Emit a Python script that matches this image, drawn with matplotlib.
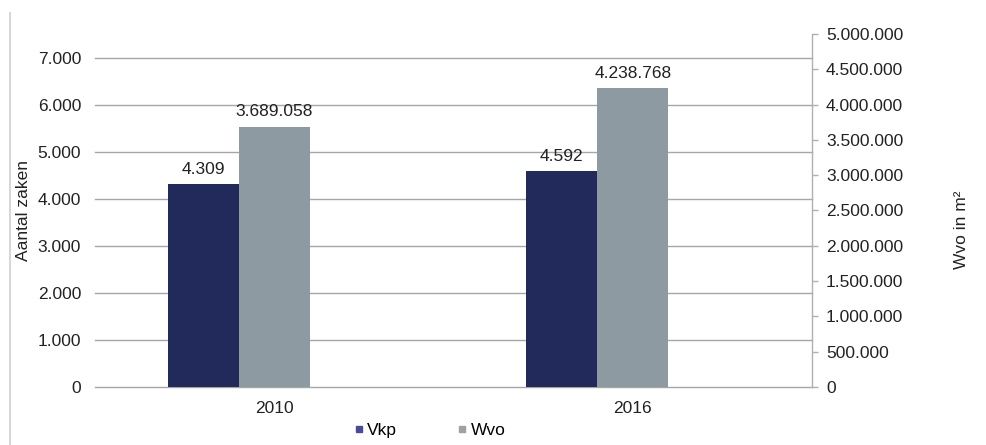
import matplotlib
matplotlib.use("Agg")
import matplotlib.pyplot as plt
import numpy as np
from matplotlib.ticker import FuncFormatter
from matplotlib.lines import Line2D

plt.rcParams['font.family'] = ['Liberation Sans', 'DejaVu Sans']

years = ["2010", "2016"]
vkp = [4309, 4592]
wvo = [3689058, 4238768]
left_ticks = [0, 1000, 2000, 3000, 4000, 5000, 6000, 7000]
right_ticks = [0, 500000, 1000000, 1500000, 2000000, 2500000, 3000000, 3500000, 4000000, 4500000, 5000000]

def nl(v, _=None):
    return f"{int(round(v)):,}".replace(",", ".")

FS = 12.5
TXT = "#222222"

fig = plt.figure(figsize=(9.86, 4.45), dpi=100)
ax = fig.add_axes([95/986, 1-387/445, (812-95)/986, (387-34)/445])
ax2 = ax.twinx()

x = np.arange(len(years))
w = 0.198
c_vkp = "#222a5c"
c_wvo = "#8e9aa2"

ax.bar(x - w, vkp, width=w, color=c_vkp, align="center", zorder=3)
ax2.bar(x, wvo, width=w, color=c_wvo, align="center", zorder=3)

ax.set_xlim(-0.5, 1.5)
ax.set_ylim(0, 7500)
ax2.set_ylim(0, 5000000)
ax.set_yticks(left_ticks)
ax2.set_yticks(right_ticks)
ax.yaxis.set_major_formatter(FuncFormatter(nl))
ax2.yaxis.set_major_formatter(FuncFormatter(nl))
ax.set_xticks(x)
ax.set_xticklabels(years)

ax.grid(axis="y", color="#a6a6a6", linewidth=1.0, zorder=0)
for gl in ax.yaxis.get_gridlines():
    gl.set_clip_on(False)
ax.set_axisbelow(True)
for s in ["top", "left", "bottom", "right"]:
    ax.spines[s].set_visible(False)
for s in ["top", "left", "bottom"]:
    ax2.spines[s].set_visible(False)
ax2.spines["right"].set_color("#b0b0b0")
ax2.spines["right"].set_linewidth(1.0)

ax.tick_params(axis="y", length=0, pad=10, labelsize=FS, colors=TXT)
ax.tick_params(axis="x", length=0, pad=10, labelsize=FS, colors=TXT)
ax2.tick_params(axis="y", length=4, width=1, color="#b0b0b0", pad=6, labelsize=FS, labelcolor=TXT)

ax.set_ylabel("Aantal zaken", fontsize=FS, color=TXT)
ax.yaxis.set_label_coords((31-95)/717, 0.5)
ax2.set_ylabel("Wvo in m²", fontsize=FS, color=TXT, rotation=90)
ax2.yaxis.set_label_coords((954-95)/717, 1-(230-34)/353)

for xi, v in zip(x - w, vkp):
    ax.text(xi, v + 150, nl(v), ha="center", va="bottom", fontsize=FS, color=TXT)
for xi, v in zip(x, wvo):
    ax2.text(xi, v + 100000, nl(v), ha="center", va="bottom", fontsize=FS, color=TXT)

handles = [
    Line2D([0], [0], marker="s", linestyle="none", markersize=5, markerfacecolor="#4a4a9a", markeredgecolor="#4a4a9a"),
    Line2D([0], [0], marker="s", linestyle="none", markersize=5, markerfacecolor="#a0a0a0", markeredgecolor="#a0a0a0"),
]
fig.legend(handles, ["Vkp", "Wvo"], loc="center", bbox_to_anchor=(428/986, 1-430/445),
           ncol=2, frameon=False, fontsize=FS, handletextpad=0.0, columnspacing=3.25,
           handlelength=1.0)

fig.add_artist(Line2D([10/986, 10/986], [0, 1-13/445], transform=fig.transFigure, color="#d0d0d0", linewidth=1.2))

fig.savefig("out.png", dpi=100)
